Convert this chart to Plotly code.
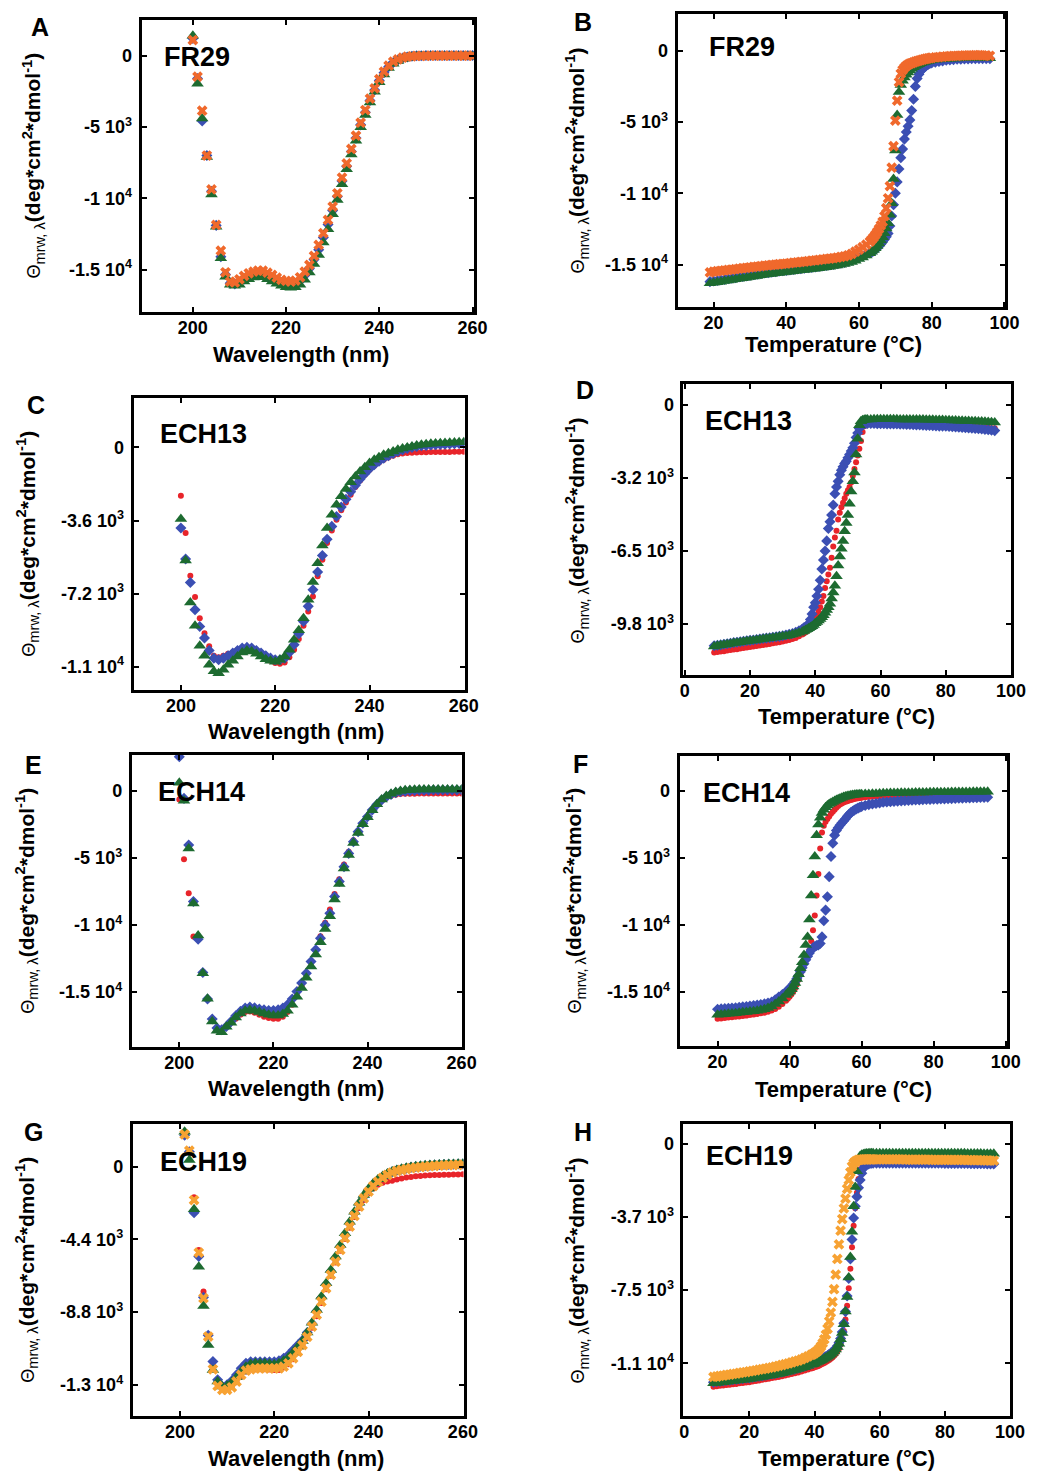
import plotly.graph_objects as go

# page / figure geometry (the html body keeps an 8px margin at left/top)
PAGE_W, PAGE_H = 1047, 1473
OFF = 8
W, H = PAGE_W - OFF, PAGE_H - OFF
FONT = "Arial, 'Liberation Sans', Helvetica, sans-serif"

# ---------------- data (ellipticity values in 10^3 deg*cm2*dmol-1) ----------------
SCALE = 1000.0

WL_A = list(range(200, 261))
WL_C = list(range(200, 261))
WL_E = list(range(200, 261))
WL_G = list(range(201, 261))

T_B = list(range(19, 64)) + [63.5 + 0.5 * i for i in range(34)] + list(range(81, 97))
T_D = list(range(9, 37)) + [36.5 + 0.5 * i for i in range(40)] + list(range(57, 96))
T_F = list(range(20, 40)) + [39.5 + 0.5 * i for i in range(42)] + list(range(61, 96))
T_H = list(range(9, 40)) + [39.5 + 0.5 * i for i in range(38)] + list(range(59, 96))

# Panel A : FR29 CD spectra
A_blue = [1.20, -1.60, -4.58, -7.00, -9.50, -11.90, -14.10, -15.35, -15.95, -16.00,
          -15.88, -15.65, -15.48, -15.36, -15.30, -15.30, -15.45, -15.60, -15.78, -15.93,
          -16.02, -16.06, -16.00, -15.80, -15.42, -14.93, -14.30, -13.60, -12.75, -11.83,
          -10.85, -9.88, -8.78, -7.75, -6.72, -5.78, -4.85, -3.97, -3.14, -2.40,
          -1.74, -1.20, -0.77, -0.48, -0.30, -0.17, -0.09, -0.04, -0.01, 0.00,
          0.01, 0.01, 0.02, 0.02, 0.02, 0.02, 0.02, 0.02, 0.02, 0.02,
          0.02]
A_green = [1.40, -1.96, -4.40, -7.10, -9.74, -12.00, -14.20, -15.50, -16.07, -16.14,
           -16.07, -15.84, -15.68, -15.56, -15.54, -15.54, -15.68, -15.84, -16.00, -16.14,
           -16.24, -16.28, -16.24, -16.07, -15.72, -15.21, -14.60, -13.97, -13.10, -12.17,
           -11.12, -10.12, -9.02, -7.97, -6.92, -5.96, -5.02, -4.16, -3.29, -2.52,
           -1.87, -1.31, -0.86, -0.56, -0.37, -0.23, -0.14, -0.09, -0.06, -0.05,
           -0.05, -0.05, -0.05, -0.05, -0.05, -0.05, -0.05, -0.05, -0.05, -0.05,
           -0.05]
A_orange = [1.10, -1.47, -3.86, -7.00, -9.37, -11.87, -13.67, -15.19, -15.84, -15.90,
            -15.68, -15.44, -15.26, -15.14, -15.07, -15.07, -15.21, -15.37, -15.56, -15.72,
            -15.79, -15.84, -15.77, -15.54, -15.14, -14.67, -14.04, -13.27, -12.45, -11.52,
            -10.58, -9.65, -8.55, -7.55, -6.54, -5.61, -4.70, -3.81, -3.01, -2.29,
            -1.64, -1.12, -0.70, -0.42, -0.26, -0.14, -0.07, -0.04, -0.02, -0.01,
            -0.01, 0.00, 0.00, 0.00, 0.00, 0.00, 0.00, 0.00, 0.00, 0.00,
            0.00]

# Panel B : FR29 thermal melts
B_blue = [-16.20, -16.16, -16.12, -16.08, -16.04, -16.00, -15.96, -15.92, -15.88, -15.84,
          -15.80, -15.76, -15.72, -15.68, -15.64, -15.60, -15.57, -15.54, -15.50, -15.47,
          -15.44, -15.41, -15.38, -15.35, -15.32, -15.29, -15.26, -15.23, -15.20, -15.17,
          -15.14, -15.10, -15.07, -15.03, -14.99, -14.95, -14.90, -14.85, -14.78, -14.70,
          -14.61, -14.51, -14.40, -14.28, -14.18,
          -14.14, -14.05, -13.95, -13.84, -13.72, -13.58, -13.42, -13.25, -13.05, -12.82,
          -12.30, -11.60, -10.80, -10.00, -9.20, -8.30, -7.50, -6.90, -6.20, -5.70,
          -5.30, -4.85, -4.20, -3.40, -2.50, -1.95, -1.65, -1.42, -1.27, -1.15,
          -1.05, -0.97, -0.90, -0.85,
          -0.80, -0.75, -0.71, -0.67, -0.64, -0.62, -0.60, -0.59, -0.58, -0.57,
          -0.56, -0.56, -0.55, -0.55, -0.55, -0.56]
B_green = [-16.32, -16.28, -16.24, -16.20, -16.16, -16.12, -16.08, -16.04, -16.00, -15.96,
           -15.92, -15.88, -15.84, -15.80, -15.76, -15.72, -15.69, -15.66, -15.62, -15.59,
           -15.56, -15.53, -15.50, -15.47, -15.44, -15.41, -15.38, -15.35, -15.32, -15.29,
           -15.26, -15.22, -15.19, -15.15, -15.11, -15.07, -15.02, -14.97, -14.90, -14.82,
           -14.73, -14.62, -14.50, -14.36, -14.20,
           -14.10, -13.98, -13.85, -13.70, -13.52, -13.32, -13.08, -12.80, -12.48, -12.10,
           -11.50, -10.70, -9.00, -7.00, -4.50, -2.90, -2.40, -2.10, -1.88, -1.68,
           -1.52, -1.38, -1.26, -1.16, -1.07, -1.00, -0.94, -0.88, -0.83, -0.79,
           -0.75, -0.72, -0.69, -0.66,
           -0.63, -0.61, -0.59, -0.57, -0.56, -0.55, -0.54, -0.53, -0.52, -0.51,
           -0.51, -0.50, -0.50, -0.50, -0.51, -0.52]
B_orange = [-15.55, -15.50, -15.47, -15.44, -15.41, -15.38, -15.35, -15.32, -15.29, -15.26,
            -15.23, -15.20, -15.17, -15.14, -15.11, -15.08, -15.06, -15.03, -15.00, -14.98,
            -14.95, -14.93, -14.90, -14.87, -14.85, -14.82, -14.79, -14.76, -14.73, -14.70,
            -14.67, -14.64, -14.61, -14.58, -14.55, -14.51, -14.47, -14.42, -14.35, -14.25,
            -14.10, -13.95, -13.78, -13.60, -13.40,
            -13.25, -13.10, -12.92, -12.72, -12.50, -12.25, -12.00, -11.60, -11.05, -10.35,
            -9.50, -8.20, -6.70, -4.90, -3.50, -2.20, -1.60, -1.35, -1.18, -1.06,
            -0.98, -0.91, -0.86, -0.81, -0.77, -0.73, -0.69, -0.66, -0.62, -0.59,
            -0.56, -0.53, -0.51, -0.49,
            -0.47, -0.44, -0.42, -0.40, -0.38, -0.36, -0.35, -0.34, -0.33, -0.32,
            -0.32, -0.31, -0.31, -0.32, -0.33, -0.35]

# Panel C : ECH13 CD spectra
C_red = [-2.38, -4.22, -6.32, -7.37, -8.41, -9.15, -9.80, -10.26, -10.34, -10.26,
         -10.16, -10.10, -9.97, -9.88, -9.88, -9.93, -10.05, -10.21, -10.38, -10.51,
         -10.62, -10.66, -10.59, -10.34, -9.97, -9.44, -8.78, -8.08, -7.34, -6.35,
         -5.53, -4.71, -4.09, -3.56, -3.10, -2.71, -2.33, -1.95, -1.63, -1.35,
         -1.10, -0.90, -0.74, -0.61, -0.49, -0.41, -0.34, -0.30, -0.27, -0.26,
         -0.25, -0.24, -0.24, -0.23, -0.23, -0.22, -0.22, -0.22, -0.21, -0.21,
         -0.21]
C_blue = [-3.97, -5.50, -6.65, -8.00, -8.82, -9.39, -10.00, -10.38, -10.46, -10.38,
          -10.26, -10.13, -10.00, -9.88, -9.85, -9.88, -10.00, -10.13, -10.26, -10.38,
          -10.46, -10.46, -10.38, -10.10, -9.72, -9.18, -8.57, -7.83, -7.01, -6.14,
          -5.32, -4.52, -3.89, -3.40, -2.94, -2.55, -2.18, -1.86, -1.56, -1.30,
          -1.05, -0.85, -0.68, -0.53, -0.41, -0.30, -0.20, -0.12, -0.05, 0.00,
          0.05, 0.08, 0.10, 0.12, 0.14, 0.15, 0.16, 0.17, 0.18, 0.19,
          0.20]
C_green = [-3.53, -5.57, -7.64, -8.78, -9.77, -10.26, -10.71, -11.03, -11.12, -10.95,
           -10.71, -10.51, -10.30, -10.10, -10.00, -10.05, -10.16, -10.30, -10.43, -10.51,
           -10.56, -10.46, -10.30, -9.97, -9.47, -9.01, -8.41, -7.50, -6.63, -5.70,
           -4.83, -3.97, -3.32, -2.82, -2.41, -2.05, -1.72, -1.43, -1.18, -0.97,
           -0.77, -0.61, -0.48, -0.36, -0.28, -0.20, -0.11, -0.05, 0.00, 0.05,
           0.10, 0.13, 0.16, 0.18, 0.20, 0.21, 0.22, 0.23, 0.24, 0.25,
           0.25]

# Panel D : ECH13 thermal melts
D_red = [-11.02, -11.00, -10.98, -10.96, -10.93, -10.91, -10.89, -10.87, -10.84, -10.82,
         -10.80, -10.77, -10.75, -10.73, -10.71, -10.68, -10.66, -10.64, -10.61, -10.59,
         -10.56, -10.53, -10.50, -10.46, -10.42, -10.37, -10.30, -10.22,
         -10.17, -10.12, -10.06, -10.00, -9.93, -9.85, -9.72, -9.55, -9.42, -9.20,
         -9.00, -8.75, -8.50, -8.15, -7.85, -7.55, -7.25, -6.80, -6.30, -5.90,
         -5.60, -5.10, -4.80, -4.55, -4.35, -4.15, -3.95, -3.80, -3.65, -3.45,
         -3.15, -2.85, -2.55, -2.25, -1.95, -1.60, -1.20, -0.95, -0.88, -0.86,
         -0.86, -0.86, -0.86, -0.86, -0.86, -0.86, -0.86, -0.86, -0.86, -0.87,
         -0.87, -0.87, -0.87, -0.88, -0.88, -0.88, -0.89, -0.89, -0.89, -0.90,
         -0.90, -0.91, -0.91, -0.92, -0.92, -0.93, -0.93, -0.94, -0.95, -0.95,
         -0.96, -0.97, -0.98, -0.98, -0.99, -1.00, -1.01, -1.03, -1.04]
D_blue = [-10.72, -10.70, -10.68, -10.65, -10.63, -10.61, -10.58, -10.56, -10.54, -10.52,
          -10.50, -10.48, -10.46, -10.44, -10.42, -10.40, -10.38, -10.36, -10.34, -10.32,
          -10.30, -10.27, -10.24, -10.21, -10.17, -10.12, -10.05, -9.97,
          -9.92, -9.87, -9.82, -9.75, -9.55, -9.30, -9.00, -8.80, -8.50, -8.20,
          -7.80, -7.30, -6.90, -6.50, -6.05, -5.50, -5.20, -4.90, -4.45, -3.95,
          -3.65, -3.40, -3.10, -2.90, -2.75, -2.60, -2.50, -2.35, -2.20, -2.05,
          -1.90, -1.70, -1.45, -1.25, -1.05, -0.92, -0.86, -0.83, -0.82, -0.82,
          -0.82, -0.82, -0.83, -0.83, -0.83, -0.84, -0.84, -0.85, -0.85, -0.86,
          -0.86, -0.87, -0.87, -0.88, -0.89, -0.89, -0.90, -0.91, -0.91, -0.92,
          -0.93, -0.94, -0.94, -0.95, -0.96, -0.97, -0.98, -0.99, -1.00, -1.01,
          -1.02, -1.03, -1.05, -1.06, -1.07, -1.09, -1.10, -1.12, -1.14]
D_green = [-10.75, -10.72, -10.70, -10.67, -10.65, -10.63, -10.60, -10.58, -10.56, -10.54,
           -10.52, -10.50, -10.48, -10.46, -10.44, -10.42, -10.40, -10.38, -10.36, -10.34,
           -10.32, -10.30, -10.28, -10.25, -10.22, -10.18, -10.14, -10.10,
           -10.06, -10.02, -9.98, -9.94, -9.90, -9.85, -9.79, -9.72, -9.66, -9.60,
           -9.53, -9.45, -9.36, -9.25, -9.13, -9.00, -8.85, -8.62, -8.35, -8.05,
           -7.62, -7.15, -6.75, -6.40, -6.05, -5.62, -5.25, -4.90, -4.40, -3.85,
           -3.40, -3.00, -2.20, -1.50, -0.90, -0.72, -0.68, -0.66, -0.65, -0.64,
           -0.64, -0.63, -0.63, -0.63, -0.63, -0.63, -0.63, -0.63, -0.63, -0.64,
           -0.64, -0.64, -0.64, -0.65, -0.65, -0.65, -0.65, -0.66, -0.66, -0.66,
           -0.67, -0.67, -0.67, -0.68, -0.68, -0.69, -0.69, -0.70, -0.70, -0.71,
           -0.71, -0.72, -0.72, -0.73, -0.74, -0.75, -0.76, -0.77, -0.78]

# Panel E : ECH14 CD spectra
E_red = [-0.65, -5.10, -7.64, -10.87, -11.00, -13.50, -15.50, -17.00, -17.77, -17.85,
         -17.60, -17.30, -17.00, -16.70, -16.50, -16.45, -16.55, -16.70, -16.85, -16.95,
         -17.00, -17.00, -16.85, -16.50, -15.95, -15.30, -14.55, -13.70, -12.80, -11.85,
         -10.85, -9.85, -8.85, -7.70, -6.60, -5.50, -4.55, -3.70, -3.00, -2.40,
         -1.90, -1.45, -1.05, -0.75, -0.52, -0.38, -0.30, -0.25, -0.23, -0.22,
         -0.22, -0.21, -0.21, -0.21, -0.20, -0.20, -0.20, -0.20, -0.20, -0.20,
         -0.20]
E_blue = [2.53, -0.57, -4.04, -8.26, -11.07, -13.55, -15.53, -17.02, -17.69, -17.82,
          -17.57, -17.20, -16.77, -16.45, -16.20, -16.13, -16.18, -16.28, -16.33, -16.38,
          -16.38, -16.33, -16.20, -15.96, -15.53, -14.96, -14.34, -13.60, -12.73, -11.86,
          -10.99, -10.00, -9.13, -7.89, -6.77, -5.66, -4.67, -3.80, -3.05, -2.43,
          -1.94, -1.44, -1.02, -0.69, -0.45, -0.27, -0.15, -0.07, -0.03, 0.00,
          0.02, 0.03, 0.04, 0.04, 0.05, 0.05, 0.05, 0.05, 0.05, 0.05,
          0.05]
E_green = [0.60, -0.75, -4.30, -8.40, -10.80, -13.60, -15.50, -17.20, -17.90, -18.00,
           -17.60, -17.30, -16.90, -16.60, -16.40, -16.35, -16.40, -16.50, -16.60, -16.70,
           -16.75, -16.75, -16.65, -16.40, -15.95, -15.35, -14.70, -13.95, -13.10, -12.20,
           -11.30, -10.30, -9.35, -8.10, -6.95, -5.80, -4.80, -3.90, -3.15, -2.50,
           -1.98, -1.45, -1.00, -0.65, -0.40, -0.22, -0.10, -0.02, 0.03, 0.06,
           0.08, 0.09, 0.10, 0.10, 0.10, 0.10, 0.10, 0.10, 0.10, 0.10,
           0.10]

# Panel F : ECH14 thermal melts
F_red = [-17.02, -16.99, -16.96, -16.93, -16.90, -16.87, -16.84, -16.81, -16.78, -16.74,
         -16.70, -16.66, -16.61, -16.56, -16.49, -16.40, -16.28, -16.12, -15.92, -15.68,
         -15.53, -15.38, -15.20, -15.00, -14.75, -14.45, -14.10, -13.70, -13.25, -12.85,
         -12.50, -12.20, -11.90, -11.20, -10.40, -9.30, -7.80, -6.20, -4.30, -3.10,
         -2.60, -2.30, -2.10, -1.90, -1.70, -1.55, -1.40, -1.25, -1.12, -1.02,
         -0.94, -0.87, -0.81, -0.76, -0.71, -0.67, -0.63, -0.60, -0.57, -0.54,
         -0.52, -0.50,
         -0.47, -0.45, -0.43, -0.41, -0.40, -0.38, -0.37, -0.36, -0.35, -0.34,
         -0.33, -0.32, -0.31, -0.31, -0.30, -0.29, -0.29, -0.28, -0.28, -0.27,
         -0.27, -0.26, -0.26, -0.25, -0.25, -0.24, -0.24, -0.24, -0.23, -0.23,
         -0.23, -0.22, -0.22, -0.22, -0.21]
F_blue = [-16.30, -16.28, -16.26, -16.24, -16.22, -16.19, -16.16, -16.13, -16.10, -16.07,
          -16.03, -15.99, -15.95, -15.90, -15.84, -15.76, -15.60, -15.40, -15.20, -15.00,
          -14.88, -14.75, -14.60, -14.43, -14.25, -14.02, -13.78, -13.50, -13.20, -12.90,
          -12.60, -12.35, -12.10, -11.88, -11.72, -11.62, -11.55, -11.50, -11.40, -10.90,
          -9.70, -8.90, -7.90, -6.40, -4.90, -3.90, -3.30, -2.95, -2.75, -2.56,
          -2.40, -2.25, -2.10, -1.90, -1.75, -1.62, -1.52, -1.43, -1.35, -1.28,
          -1.22, -1.16,
          -1.08, -1.02, -0.97, -0.93, -0.89, -0.85, -0.82, -0.80, -0.78, -0.76,
          -0.74, -0.72, -0.71, -0.69, -0.68, -0.67, -0.65, -0.64, -0.63, -0.62,
          -0.61, -0.60, -0.59, -0.58, -0.57, -0.56, -0.55, -0.54, -0.53, -0.52,
          -0.51, -0.50, -0.49, -0.48, -0.47]
F_green = [-16.72, -16.70, -16.68, -16.65, -16.63, -16.60, -16.57, -16.54, -16.51, -16.48,
           -16.45, -16.41, -16.36, -16.30, -16.22, -16.10, -15.92, -15.72, -15.50, -15.25,
           -15.10, -14.98, -14.82, -14.60, -14.35, -14.05, -13.70, -13.25, -12.80, -12.25,
           -11.50, -10.90, -9.60, -7.80, -6.30, -4.90, -3.30, -2.50, -2.00, -1.65,
           -1.40, -1.22, -1.08, -0.98, -0.90, -0.82, -0.75, -0.68, -0.62, -0.56,
           -0.50, -0.46, -0.42, -0.38, -0.35, -0.32, -0.30, -0.28, -0.27, -0.26,
           -0.25, -0.24,
           -0.23, -0.22, -0.21, -0.20, -0.19, -0.18, -0.17, -0.16, -0.16, -0.15,
           -0.14, -0.14, -0.13, -0.13, -0.12, -0.12, -0.11, -0.11, -0.10, -0.10,
           -0.10, -0.09, -0.09, -0.09, -0.08, -0.08, -0.08, -0.07, -0.07, -0.07,
           -0.06, -0.06, -0.06, -0.05, -0.05]

# Panel G : ECH19 CD spectra
G_red = [1.92, 1.00, -1.85, -5.04, -7.56, -10.28, -11.99, -13.10, -13.51, -13.45,
         -13.30, -13.05, -12.70, -12.40, -12.28, -12.26, -12.26, -12.26, -12.28, -12.30,
         -12.30, -12.15, -11.95, -11.65, -11.25, -10.85, -10.35, -9.75, -9.05, -8.25,
         -7.42, -6.60, -5.80, -5.08, -4.38, -3.70, -3.05, -2.50, -2.02, -1.60,
         -1.30, -1.10, -0.97, -0.90, -0.85, -0.78, -0.72, -0.66, -0.62, -0.58,
         -0.56, -0.54, -0.52, -0.51, -0.50, -0.49, -0.48, -0.47, -0.47, -0.46]
G_blue = [1.90, 0.90, -2.78, -5.44, -7.90, -10.20, -11.79, -12.90, -13.30, -13.20,
          -12.95, -12.60, -12.20, -11.90, -11.80, -11.80, -11.80, -11.80, -11.80, -11.80,
          -11.75, -11.60, -11.40, -11.10, -10.80, -10.50, -10.04, -9.50, -8.75, -7.95,
          -7.15, -6.35, -5.55, -4.85, -4.15, -3.45, -2.82, -2.27, -1.80, -1.40,
          -1.07, -0.82, -0.60, -0.44, -0.31, -0.22, -0.15, -0.09, -0.04, 0.00,
          0.03, 0.06, 0.08, 0.10, 0.12, 0.13, 0.14, 0.15, 0.16, 0.16]
G_green = [2.12, 0.40, -2.58, -6.05, -8.43, -10.79, -12.30, -13.00, -13.30, -13.25,
           -13.05, -12.75, -12.40, -12.10, -11.94, -11.90, -11.90, -11.90, -11.92, -11.95,
           -11.90, -11.75, -11.55, -11.25, -10.90, -10.55, -10.04, -9.44, -8.67, -7.86,
           -7.06, -6.25, -5.44, -4.74, -4.03, -3.33, -2.72, -2.18, -1.71, -1.33,
           -1.00, -0.76, -0.56, -0.41, -0.29, -0.20, -0.13, -0.07, -0.02, 0.02,
           0.05, 0.08, 0.10, 0.12, 0.14, 0.15, 0.16, 0.17, 0.18, 0.18]
G_gold = [1.95, 0.97, -2.02, -5.20, -7.96, -10.28, -12.26, -13.27, -13.51, -13.50,
          -13.35, -13.00, -12.60, -12.34, -12.26, -12.20, -12.20, -12.20, -12.20, -12.20,
          -12.20, -12.10, -11.90, -11.60, -11.20, -10.80, -10.30, -9.68, -8.97, -8.17,
          -7.36, -6.55, -5.75, -5.04, -4.33, -3.63, -2.98, -2.42, -1.92, -1.51,
          -1.17, -0.91, -0.67, -0.50, -0.36, -0.26, -0.20, -0.14, -0.09, -0.05,
          -0.02, 0.01, 0.03, 0.05, 0.07, 0.08, 0.09, 0.10, 0.11, 0.12]

# Panel H : ECH19 thermal melts
H_red = [-12.45, -12.43, -12.41, -12.39, -12.37, -12.35, -12.33, -12.31, -12.28, -12.26,
         -12.24, -12.22, -12.19, -12.16, -12.13, -12.10, -12.07, -12.04, -12.01, -11.98,
         -11.95, -11.92, -11.88, -11.84, -11.80, -11.76, -11.72, -11.67, -11.62, -11.57,
         -11.52,
         -11.49, -11.46, -11.43, -11.40, -11.36, -11.32, -11.28, -11.24, -11.19, -11.14,
         -11.08, -11.02, -10.95, -10.87, -10.77, -10.65, -10.50, -10.30, -10.00, -9.60,
         -9.00, -8.30, -7.40, -6.40, -5.30, -4.20, -3.30, -2.50, -1.80, -1.30,
         -1.00, -0.90, -0.86, -0.85, -0.84, -0.84, -0.84, -0.84,
         -0.84, -0.84, -0.84, -0.84, -0.85, -0.85, -0.85, -0.85, -0.85, -0.85,
         -0.86, -0.86, -0.86, -0.86, -0.86, -0.86, -0.87, -0.87, -0.87, -0.87,
         -0.87, -0.88, -0.88, -0.88, -0.88, -0.88, -0.89, -0.89, -0.89, -0.89,
         -0.89, -0.90, -0.90, -0.90, -0.90, -0.91, -0.91]
H_blue = [-12.22, -12.20, -12.18, -12.16, -12.14, -12.12, -12.10, -12.08, -12.06, -12.04,
          -12.02, -12.00, -11.97, -11.94, -11.92, -11.89, -11.86, -11.83, -11.80, -11.77,
          -11.74, -11.70, -11.66, -11.62, -11.58, -11.54, -11.49, -11.44, -11.39, -11.33,
          -11.27,
          -11.24, -11.20, -11.16, -11.12, -11.08, -11.04, -11.00, -10.95, -10.90, -10.85,
          -10.79, -10.73, -10.66, -10.58, -10.48, -10.36, -10.20, -9.98, -9.65, -9.20,
          -8.60, -7.80, -6.90, -5.90, -4.90, -3.80, -3.20, -2.70, -2.25, -1.85,
          -1.50, -1.25, -1.12, -1.05, -1.02, -1.00, -0.99, -0.98,
          -0.98, -0.98, -0.98, -0.98, -0.98, -0.98, -0.98, -0.98, -0.98, -0.98,
          -0.98, -0.98, -0.99, -0.99, -0.99, -0.99, -0.99, -0.99, -0.99, -0.99,
          -0.99, -1.00, -1.00, -1.00, -1.00, -1.00, -1.00, -1.00, -1.00, -1.01,
          -1.01, -1.01, -1.01, -1.01, -1.02, -1.02, -1.02]
H_green = [-12.28, -12.26, -12.24, -12.22, -12.20, -12.18, -12.16, -12.14, -12.12, -12.10,
           -12.08, -12.06, -12.03, -12.00, -11.98, -11.95, -11.92, -11.89, -11.86, -11.83,
           -11.80, -11.76, -11.72, -11.68, -11.64, -11.60, -11.55, -11.50, -11.45, -11.39,
           -11.33,
           -11.30, -11.27, -11.23, -11.19, -11.15, -11.11, -11.07, -11.02, -10.97, -10.92,
           -10.86, -10.80, -10.73, -10.65, -10.55, -10.42, -10.25, -10.02, -9.70, -9.25,
           -8.60, -7.85, -6.85, -5.80, -4.50, -3.20, -2.20, -1.40, -0.85, -0.62,
           -0.55, -0.52, -0.50, -0.49, -0.49, -0.48, -0.48, -0.48,
           -0.48, -0.48, -0.47, -0.47, -0.47, -0.47, -0.47, -0.47, -0.47, -0.47,
           -0.47, -0.47, -0.47, -0.47, -0.47, -0.47, -0.47, -0.47, -0.47, -0.47,
           -0.48, -0.48, -0.48, -0.48, -0.48, -0.48, -0.48, -0.48, -0.49, -0.49,
           -0.49, -0.49, -0.49, -0.50, -0.50, -0.50, -0.50]
H_gold = [-11.95, -11.93, -11.90, -11.88, -11.85, -11.83, -11.80, -11.78, -11.75, -11.72,
          -11.70, -11.67, -11.64, -11.61, -11.58, -11.55, -11.52, -11.49, -11.46, -11.42,
          -11.38, -11.34, -11.30, -11.26, -11.21, -11.16, -11.11, -11.05, -10.98, -10.90,
          -10.82,
          -10.78, -10.73, -10.67, -10.60, -10.50, -10.38, -10.22, -10.02, -9.78, -9.48,
          -9.10, -8.65, -8.10, -7.45, -6.70, -5.90, -5.15, -4.45, -3.85, -3.30,
          -2.80, -2.30, -1.85, -1.45, -1.15, -0.98, -0.90, -0.85, -0.82, -0.80,
          -0.80, -0.79, -0.79, -0.79, -0.79, -0.79, -0.79, -0.79,
          -0.79, -0.79, -0.79, -0.79, -0.79, -0.79, -0.79, -0.79, -0.79, -0.80,
          -0.80, -0.80, -0.80, -0.80, -0.80, -0.80, -0.80, -0.81, -0.81, -0.81,
          -0.81, -0.81, -0.81, -0.82, -0.82, -0.82, -0.82, -0.82, -0.83, -0.83,
          -0.83, -0.83, -0.84, -0.84, -0.84, -0.85, -0.85]

# tick definitions
XT_CD = [200, 220, 240, 260]
XT_T20 = [20, 40, 60, 80, 100]
XT_T0 = [0, 20, 40, 60, 80, 100]
YT_5K = [0, -5000, -10000, -15000]
YL_5K = ["0", "-5 10<sup>3</sup>", "-1 10<sup>4</sup>", "-1.5 10<sup>4</sup>"]
YT_C = [0, -3600, -7200, -10800]
YL_C = ["0", "-3.6 10<sup>3</sup>", "-7.2 10<sup>3</sup>", "-1.1 10<sup>4</sup>"]
YT_D = [0, -3250, -6500, -9750]
YL_D = ["0", "-3.2 10<sup>3</sup>", "-6.5 10<sup>3</sup>", "-9.8 10<sup>3</sup>"]
YT_G = [0, -4400, -8800, -13200]
YL_G = ["0", "-4.4 10<sup>3</sup>", "-8.8 10<sup>3</sup>", "-1.3 10<sup>4</sup>"]
YT_H = [0, -3750, -7500, -11250]
YL_H = ["0", "-3.7 10<sup>3</sup>", "-7.5 10<sup>3</sup>", "-1.1 10<sup>4</sup>"]

# ---------------- styles ----------------
COL = dict(blue="#3b4fb3", green="#1d6b30", orange="#f0692c", red="#e8242a", gold="#f7a233")
SYM = dict(blue="diamond", green="triangle-up", orange="x", red="circle", gold="x")
SIZ = dict(blue=8.5, green=11, orange=9.5, red=6, gold=9.5)

XT_WL = "<b>Wavelength (nm)</b>"
XT_TE = "<b>Temperature (°C)</b>"
YTITLE = ('<span style="font-size:18px">Θ</span><sub>mrw, λ</sub>'
          '<b>(deg*cm<sup>2</sup>*dmol<sup>-1</sup>)</b>')

PANELS = [
    dict(box=(140, 20, 479, 312), xr=[189, 260.4], yr=[-17973, 2503], xt=XT_CD, yt=YT_5K, yl=YL_5K,
         xtitle=XT_WL, xtp=(302, 354), ytp=(29, 166), let="A", letp=(37, 27), name="FR29", namep=(161, 57),
         series=[(WL_A, A_blue, "blue"), (WL_A, A_green, "green"), (WL_A, A_orange, "orange")]),
    dict(box=(686, 14, 1020, 307), xr=[10.1, 100.3], yr=[-17980, 2580], xt=XT_T20, yt=YT_5K, yl=YL_5K,
         xtitle=XT_TE, xtp=(845, 344), ytp=(583, 160), let="B", letp=(590, 22), name="FR29", namep=(716, 47),
         series=[(T_B, B_blue, "blue"), (T_B, B_green, "green"), (T_B, B_orange, "orange")]),
    dict(box=(132, 398, 469, 690), xr=[190, 260.15], yr=[-11950, 2436], xt=XT_CD, yt=YT_C, yl=YL_C,
         xtitle=XT_WL, xtp=(297, 731), ytp=(23, 544), let="C", letp=(32, 405), name="ECH13", namep=(157, 434),
         series=[(WL_C, C_red, "red"), (WL_C, C_blue, "blue"), (WL_C, C_green, "green")]),
    dict(box=(692, 384, 1026, 675), xr=[-0.4, 100.1], yr=[-12021, 935], xt=XT_T0, yt=YT_D, yl=YL_D,
         xtitle=XT_TE, xtp=(858, 717), ytp=(583, 530), let="D", letp=(592, 390), name="ECH13", namep=(712, 421),
         series=[(T_D, D_red, "red"), (T_D, D_blue, "blue"), (T_D, D_green, "green")]),
    dict(box=(130, 755, 466, 1047), xr=[189.9, 260], yr=[-19104, 2664], xt=XT_CD, yt=YT_5K, yl=YL_5K,
         xtitle=XT_WL, xtp=(297, 1088), ytp=(22, 901), let="E", letp=(30, 765), name="ECH14", namep=(155, 792),
         series=[(WL_E, E_red, "red"), (WL_E, E_blue, "blue"), (WL_E, E_green, "green")]),
    dict(box=(688, 756, 1022, 1046), xr=[9.45, 100.5], yr=[-19052, 2612], xt=XT_T20, yt=YT_5K, yl=YL_5K,
         xtitle=XT_TE, xtp=(855, 1089), ytp=(580, 901), let="F", letp=(587, 764), name="ECH14", namep=(710, 793),
         series=[(T_F, F_red, "red"), (T_F, F_blue, "blue"), (T_F, F_green, "green")]),
    dict(box=(131, 1124, 468, 1416), xr=[190, 260.15], yr=[-15088, 2584], xt=XT_CD, yt=YT_G, yl=YL_G,
         xtitle=XT_WL, xtp=(297, 1458), ytp=(22, 1270), let="G", letp=(30, 1132), name="ECH19", namep=(157, 1162),
         series=[(WL_G, G_red, "red"), (WL_G, G_blue, "blue"), (WL_G, G_green, "green"), (WL_G, G_gold, "gold")]),
    dict(box=(692, 1124, 1025, 1416), xr=[-0.2, 100.1], yr=[-13957, 1027], xt=XT_T0, yt=YT_H, yl=YL_H,
         xtitle=XT_TE, xtp=(858, 1458), ytp=(583, 1270), let="H", letp=(590, 1132), name="ECH19", namep=(713, 1156),
         series=[(T_H, H_red, "red"), (T_H, H_blue, "blue"), (T_H, H_green, "green"), (T_H, H_gold, "gold")]),
]


def fx(p):
    return (p - OFF) / W


def fy(p):
    return 1 - (p - OFF) / H


fig = go.Figure()
layout = dict(width=W, height=H, margin=dict(l=0, r=0, t=0, b=0), showlegend=False,
              paper_bgcolor="white", plot_bgcolor="white", annotations=[])

axis_common = dict(showline=True, linewidth=3, linecolor="black", mirror="ticks",
                   ticks="inside", ticklen=5, tickwidth=2, tickcolor="black",
                   showgrid=False, zeroline=False, fixedrange=True,
                   tickfont=dict(family=FONT, size=18, color="black", weight="bold"))

for i, p in enumerate(PANELS):
    n = "" if i == 0 else str(i + 1)
    l, t, r, b = p["box"]
    layout["xaxis" + n] = dict(axis_common, domain=[fx(l), fx(r)], range=p["xr"],
                               tickmode="array", tickvals=p["xt"], ticktext=[str(v) for v in p["xt"]],
                               anchor="y" + n, ticklabelstandoff=-3)
    layout["yaxis" + n] = dict(axis_common, domain=[fy(b), fy(t)], range=p["yr"],
                               tickmode="array", tickvals=p["yt"], ticktext=p["yl"],
                               anchor="x" + n, ticklabelstandoff=3)
    for xs, ys, kind in p["series"]:
        m = min(len(xs), len(ys))
        fig.add_trace(go.Scatter(
            x=xs[:m], y=[v * SCALE for v in ys[:m]], mode="markers",
            xaxis="x" + n, yaxis="y" + n, hoverinfo="skip", cliponaxis=True,
            marker=dict(symbol=SYM[kind], size=SIZ[kind], color=COL[kind], line=dict(width=0))))
    ann = layout["annotations"]
    ann.append(dict(text=p["xtitle"], x=fx(p["xtp"][0]), y=fy(p["xtp"][1]), xref="paper", yref="paper",
                    xanchor="center", yanchor="middle", showarrow=False,
                    font=dict(family=FONT, size=22, color="black")))
    ann.append(dict(text=YTITLE, x=fx(p["ytp"][0]), y=fy(p["ytp"][1]), xref="paper", yref="paper",
                    xanchor="center", yanchor="middle", showarrow=False, textangle=-90,
                    font=dict(family=FONT, size=21, color="black")))
    ann.append(dict(text="<b>" + p["let"] + "</b>", x=fx(p["letp"][0]), y=fy(p["letp"][1]),
                    xref="paper", yref="paper", xanchor="center", yanchor="middle", showarrow=False,
                    font=dict(family=FONT, size=25, color="black")))
    ann.append(dict(text="<b>" + p["name"] + "</b>", x=fx(p["namep"][0]), y=fy(p["namep"][1]),
                    xref="paper", yref="paper", xanchor="left", yanchor="middle", showarrow=False,
                    font=dict(family=FONT, size=27, color="black")))

fig.update_layout(**layout)
fig.write_html("out.html")
